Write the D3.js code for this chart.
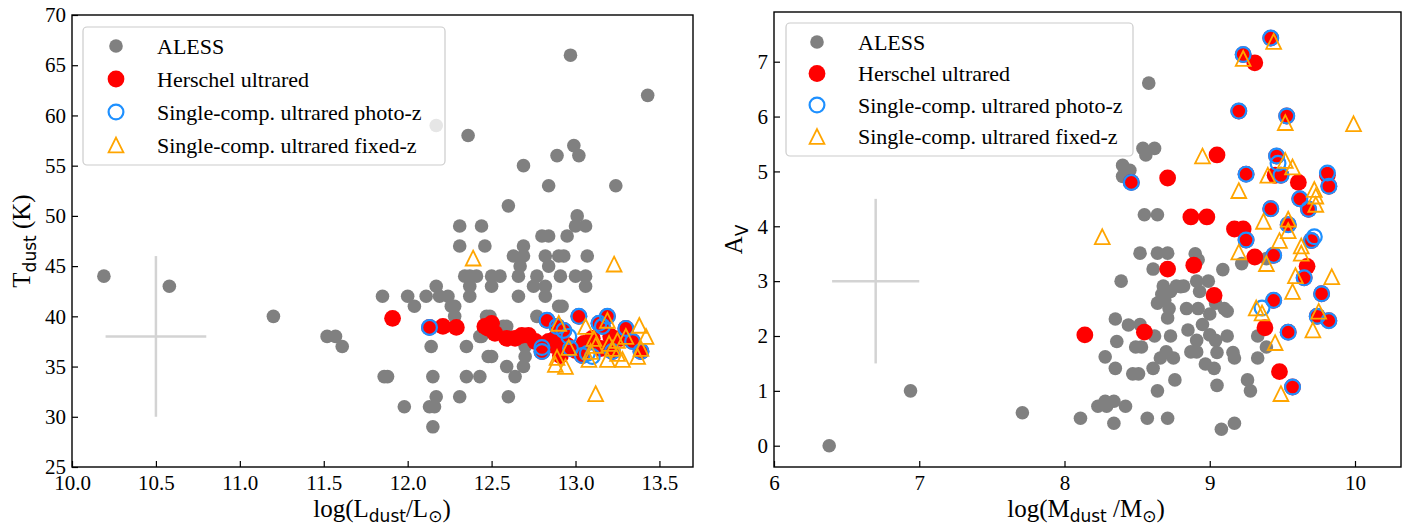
<!DOCTYPE html>
<html>
<head>
<meta charset="utf-8">
<script src="https://cdn.jsdelivr.net/npm/d3@7"></script>
<style>
body { margin: 0; background: #fff; }
text { font-family: "Liberation Serif", "Times New Roman", serif; fill: #000; }
</style>
</head>
<body>
<div id="chart"></div>
<script>
// ---- left panel: log(Ldust) vs Tdust ----
var alessL = [[10.19,44],[10.58,43],[11.20,40],[11.52,38],[11.57,38],[11.61,37],[11.85,42],[11.86,34],[11.88,34],[11.98,31],[12.00,42],[12.04,41],[12.11,42],[12.14,37],[12.15,34],[12.13,31],[12.16,31],[12.17,32],[12.15,29],[12.17,43],[12.19,42],[12.24,42],[12.28,41],[12.28,40],[12.17,59],[12.31,49],[12.31,47],[12.36,58],[12.34,44],[12.37,44],[12.41,44],[12.37,43],[12.37,42],[12.35,37],[12.35,34],[12.31,32],[12.43,34],[12.44,49],[12.46,47],[12.44,38],[12.49,40],[12.50,36],[12.50,44],[12.50,43],[12.55,44],[12.59,35],[12.60,51],[12.60,32],[12.64,34],[12.66,42],[12.63,46],[12.67,45],[12.66,44],[12.69,47],[12.69,55],[12.69,46],[12.70,37],[12.70,36],[12.69,35],[12.75,43],[12.77,44],[12.77,40],[12.80,48],[12.84,48],[12.84,53],[12.82,46],[12.84,45],[12.82,43],[12.82,42],[12.89,56],[12.90,46],[12.93,46],[12.91,44],[12.92,41],[12.95,48],[12.97,66],[12.99,57],[13.02,56],[13.01,50],[13.00,49],[13.06,49],[13.07,46],[13.00,44],[13.06,44],[13.06,43],[13.24,53],[13.43,62],[12.43,38],[12.57,39],[12.47,40],[12.59,39],[12.90,41],[12.26,41],[12.48,36]]
var redL = [[11.91,39.8],[12.13,38.9],[12.21,39.0],[12.29,38.9],[12.46,39.0],[12.50,39.3],[12.48,38.8],[12.52,38.3],[12.59,37.8],[12.64,37.8],[12.68,38.1],[12.72,38.1],[12.76,37.5],[12.80,36.9],[12.84,37.5],[12.88,37.8],[12.83,39.6],[12.89,39.0],[12.93,38.6],[12.87,37.1],[12.91,36.1],[12.95,37.1],[13.00,36.6],[13.02,40.0],[13.04,36.1],[13.05,37.3],[13.10,37.8],[13.14,39.3],[13.15,36.8],[13.19,40.0],[13.16,39.0],[13.21,38.0],[13.22,36.5],[13.27,37.8],[13.30,38.8],[13.34,37.5],[13.39,36.5],[12.80,36.5]]
var photoL = [[12.13,38.9],[12.80,36.9],[12.80,36.5],[12.83,39.6],[12.89,39.0],[12.93,38.6],[12.96,38.0],[13.02,40.0],[13.04,36.1],[13.07,36.3],[13.14,39.3],[13.19,40.0],[13.16,39.0],[13.22,36.5],[13.30,38.8],[13.34,37.5],[13.39,36.5],[12.97,36.8],[13.10,36.0]]
var fixedL = [[12.39,45.8],[13.23,45.2],[13.12,32.3],[12.90,39.3],[12.96,36.9],[12.89,35.9],[12.88,35.2],[12.94,35.0],[13.06,39.0],[13.09,36.5],[13.08,35.7],[13.19,39.6],[13.20,37.3],[13.19,35.7],[13.28,35.7],[13.30,38.0],[13.38,39.1],[13.42,38.0],[13.39,36.8],[13.37,36.0],[13.12,37.1],[13.25,37.6],[13.25,36.3],[13.11,37.8],[13.22,36.8]]
var xTicksL = [10.0, 10.5, 11.0, 11.5, 12.0, 12.5, 13.0, 13.5]
var yTicksL = [25, 30, 35, 40, 45, 50, 55, 60, 65, 70]

// ---- right panel: log(Mdust) vs Av ----
var alessR = [[6.38,0],[6.94,1.0],[7.71,0.6],[8.11,0.5],[8.23,0.72],[8.28,0.81],[8.29,0.72],[8.34,0.81],[8.42,0.72],[8.34,0.41],[8.28,1.62],[8.35,1.41],[8.36,1.9],[8.35,2.31],[8.39,3.0],[8.44,2.2],[8.47,1.31],[8.51,1.31],[8.49,1.8],[8.53,1.8],[8.52,2.21],[8.52,3.51],[8.40,5.11],[8.40,4.91],[8.45,5.02],[8.54,5.42],[8.56,5.3],[8.62,5.42],[8.58,6.61],[8.55,4.21],[8.64,4.21],[8.57,0.5],[8.61,1.41],[8.62,2.0],[8.64,1.0],[8.64,2.6],[8.66,1.6],[8.67,2.76],[8.64,3.51],[8.61,3.22],[8.71,3.51],[8.68,2.91],[8.73,2.81],[8.72,2.5],[8.71,2.33],[8.73,2.0],[8.70,1.71],[8.75,1.6],[8.76,1.2],[8.71,0.5],[8.77,2.91],[8.82,2.91],[8.84,2.5],[8.85,2.11],[8.87,1.71],[8.91,3.0],[8.92,2.5],[8.90,3.5],[8.92,3.39],[8.91,1.92],[8.91,1.71],[8.95,2.21],[8.93,2.81],[8.97,1.49],[8.99,3.0],[9.0,2.4],[9.0,2.02],[9.03,1.41],[9.04,1.92],[9.05,1.1],[9.05,1.7],[9.08,0.3],[9.09,3.21],[9.10,2.5],[9.12,2.0],[9.16,1.7],[9.17,1.6],[9.17,0.41],[9.26,1.2],[9.28,1.0],[9.22,3.32],[9.33,1.6],[9.33,2.0],[9.39,1.8],[9.39,3.41],[9.04,2.6],[9.12,2.45],[8.69,2.65],[8.80,2.9]]
var redR = [[8.14,2.02],[8.55,2.07],[8.46,4.8],[8.71,4.88],[8.71,3.22],[8.87,4.17],[8.98,4.17],[8.89,3.29],[9.05,5.30],[9.03,2.74],[9.17,3.95],[9.23,3.95],[9.25,3.75],[9.31,6.98],[9.23,7.13],[9.20,6.10],[9.25,4.95],[9.31,3.44],[9.38,2.15],[9.42,7.43],[9.42,4.32],[9.44,3.47],[9.44,2.65],[9.48,1.35],[9.46,5.28],[9.49,4.93],[9.45,4.93],[9.53,6.01],[9.54,4.03],[9.54,2.07],[9.57,1.07],[9.61,4.80],[9.62,4.50],[9.68,4.31],[9.67,3.27],[9.65,3.06],[9.70,3.74],[9.74,2.36],[9.77,2.77],[9.81,4.93],[9.82,4.73],[9.82,2.28]]
var photoR = [[8.46,4.8],[9.25,3.75],[9.23,7.13],[9.20,6.10],[9.25,4.95],[9.42,7.43],[9.42,4.32],[9.44,3.47],[9.44,2.65],[9.46,5.28],[9.47,5.15],[9.49,4.93],[9.53,6.01],[9.54,4.03],[9.54,2.07],[9.57,1.07],[9.62,4.50],[9.68,4.31],[9.65,3.06],[9.70,3.74],[9.72,3.81],[9.74,2.36],[9.77,2.77],[9.81,4.97],[9.82,4.73],[9.82,2.28],[9.36,2.51]]
var fixedR = [[8.26,3.81],[8.95,5.28],[9.20,4.65],[9.20,3.53],[9.23,7.06],[9.32,2.51],[9.36,2.42],[9.37,4.09],[9.39,3.32],[9.40,4.93],[9.44,7.37],[9.45,1.88],[9.48,3.74],[9.49,0.95],[9.52,5.89],[9.52,5.2],[9.54,4.13],[9.54,3.92],[9.57,5.08],[9.57,2.81],[9.59,3.10],[9.63,3.64],[9.63,3.51],[9.71,2.11],[9.72,4.67],[9.73,4.4],[9.73,4.55],[9.75,2.45],[9.84,3.08],[9.99,5.87]]
var xTicksR = [6, 7, 8, 9, 10]
var yTicksR = [0, 1, 2, 3, 4, 5, 6, 7]

var legendLabels = ["ALESS", "Herschel ultrared", "Single-comp. ultrared photo-z", "Single-comp. ultrared fixed-z"]

var svg = d3.select("#chart").append("svg")
    .attr("width", 1409)
    .attr("height", 531)

var triPath = h => `M0,${-h}L${h},${h}L${-h},${h}Z`

var drawMarkers = (g, kind, pts, x, y) => {
    var sel = g.append("g").attr("class", kind).selectAll("path,circle").data(pts).enter()
    if (kind == "aless") {
        sel.append("circle").attr("cx", d => x(d[0])).attr("cy", d => y(d[1])).attr("r", 6.8).style("fill", "#808080")
    } else if (kind == "red") {
        sel.append("circle").attr("cx", d => x(d[0])).attr("cy", d => y(d[1])).attr("r", 8.4).style("fill", "#ff0000")
    } else if (kind == "photo") {
        sel.append("circle").attr("cx", d => x(d[0])).attr("cy", d => y(d[1])).attr("r", 7.4)
            .style("fill", "none").style("stroke", "#1e90ff").style("stroke-width", 2.2)
    } else {
        sel.append("path").attr("d", triPath(7.4))
            .attr("transform", d => `translate(${x(d[0])},${y(d[1])})`)
            .style("fill", "none").style("stroke", "#ffa500").style("stroke-width", 1.8)
    }
}

var drawPanel = p => {
    var x = d3.scaleLinear().domain(p.xDomain).range([p.left, p.right])
    var y = d3.scaleLinear().domain(p.yDomain).range([p.bottom, p.top])
    var g = svg.append("g")

    // typical error bar
    g.append("line").attr("x1", x(p.err[0])).attr("x2", x(p.err[1])).attr("y1", y(p.err[3])).attr("y2", y(p.err[3]))
        .style("stroke", "#d3d3d3").style("stroke-width", 2.5)
    g.append("line").attr("x1", x(p.err[2])).attr("x2", x(p.err[2])).attr("y1", y(p.err[4])).attr("y2", y(p.err[5]))
        .style("stroke", "#d3d3d3").style("stroke-width", 2.5)

    drawMarkers(g, "aless", p.aless, x, y)
    drawMarkers(g, "red", p.red, x, y)
    drawMarkers(g, "photo", p.photo, x, y)
    drawMarkers(g, "fixed", p.fixed, x, y)

    // axes, ticks pointing inward
    var xAxis = g.append("g").attr("transform", `translate(0,${p.bottom})`)
        .call(d3.axisBottom(x).tickValues(p.xTicks).tickFormat(p.xFmt).tickSizeInner(-6).tickSizeOuter(0).tickPadding(8))
    var yAxis = g.append("g").attr("transform", `translate(${p.left},0)`)
        .call(d3.axisLeft(y).tickValues(p.yTicks).tickFormat(d3.format("d")).tickSizeInner(-6).tickSizeOuter(0).tickPadding(6))
    ;[xAxis, yAxis].forEach(a => {
        a.attr("font-family", null).attr("font-size", null)
        a.select(".domain").remove()
        a.selectAll("line").style("stroke", "#000").style("stroke-width", 1.2)
        a.selectAll("text").style("font-size", "21px")
    })
    g.append("rect").attr("x", p.left).attr("y", p.top).attr("width", p.right - p.left).attr("height", p.bottom - p.top)
        .style("fill", "none").style("stroke", "#000").style("stroke-width", 1.4)

    // legend (semi transparent like matplotlib)
    var lg = g.append("g")
    lg.append("rect").attr("x", p.legend.x).attr("y", p.legend.y).attr("width", p.legend.w).attr("height", p.legend.h)
        .attr("rx", 4).style("fill", "#fff").style("fill-opacity", 0.8).style("stroke", "#cccccc").style("stroke-width", 1.2)
    var kinds = ["aless", "red", "photo", "fixed"]
    kinds.forEach((k, i) => {
        var cy = p.legend.y + p.legend.first + i * p.legend.step
        var mx = p.legend.x + p.legend.mx
        drawMarkers(lg, k, [[0, 0]], v => mx, v => cy)
        lg.append("text").attr("x", p.legend.x + p.legend.tx).attr("y", cy + 7.5)
            .style("font-size", "22px").text(legendLabels[i])
    })

    // axis titles
    var xl = g.append("text").attr("x", p.xLabelX).attr("y", 517).attr("text-anchor", "middle").style("font-size", "25px")
    p.xLabel(xl)
    var yl = g.append("text").attr("transform", `translate(${p.yLabelX},${(p.top + p.bottom) / 2}) rotate(-90)`)
        .attr("text-anchor", "middle").style("font-size", "25px")
    p.yLabel(yl)
}

var sub = (t, s, dy) => t.append("tspan").attr("dy", dy).style("font-family", "'DejaVu Sans', sans-serif").style("font-size", "17px").text(s)

drawPanel({
    left: 72, right: 693, top: 15, bottom: 467,
    xDomain: [10.0, 13.7], yDomain: [25, 70],
    xTicks: xTicksL, yTicks: yTicksL, xFmt: d3.format(".1f"),
    aless: alessL, red: redL, photo: photoL, fixed: fixedL,
    err: [10.2, 10.8, 10.5, 38, 30, 46],
    legend: { x: 83, y: 27, w: 362, h: 138, first: 19, step: 33, mx: 33, tx: 74 },
    xLabelX: 382, yLabelX: 30,
    xLabel: t => {
        t.append("tspan").text("log(L")
        sub(t, "dust", 5)
        t.append("tspan").attr("dy", -5).text("/L")
        sub(t, "\u2299", 5)
        t.append("tspan").attr("dy", -5).text(")")
    },
    yLabel: t => {
        t.append("tspan").text("T")
        sub(t, "dust", 6)
        t.append("tspan").attr("dy", -6).text(" (K)")
    }
})

drawPanel({
    left: 774, right: 1401, top: 12, bottom: 467,
    xDomain: [6, 6 + (1401 - 774) / 145.25], yDomain: [-0.388, 7.906],
    xTicks: xTicksR, yTicks: yTicksR, xFmt: d3.format("d"),
    aless: alessR, red: redR, photo: photoR, fixed: fixedR,
    err: [6.4, 7.0, 6.7, 3, 1.5, 4.5],
    legend: { x: 786, y: 23, w: 347, h: 133, first: 19, step: 31.5, mx: 31, tx: 72 },
    xLabelX: 1086, yLabelX: 742,
    xLabel: t => {
        t.append("tspan").text("log(M")
        sub(t, "dust", 5)
        t.append("tspan").attr("dy", -5).text(" /M")
        sub(t, "\u2299", 5)
        t.append("tspan").attr("dy", -5).text(")")
    },
    yLabel: t => {
        t.append("tspan").text("A")
        sub(t, "V", 6)
    }
})
</script>
</body>
</html>
